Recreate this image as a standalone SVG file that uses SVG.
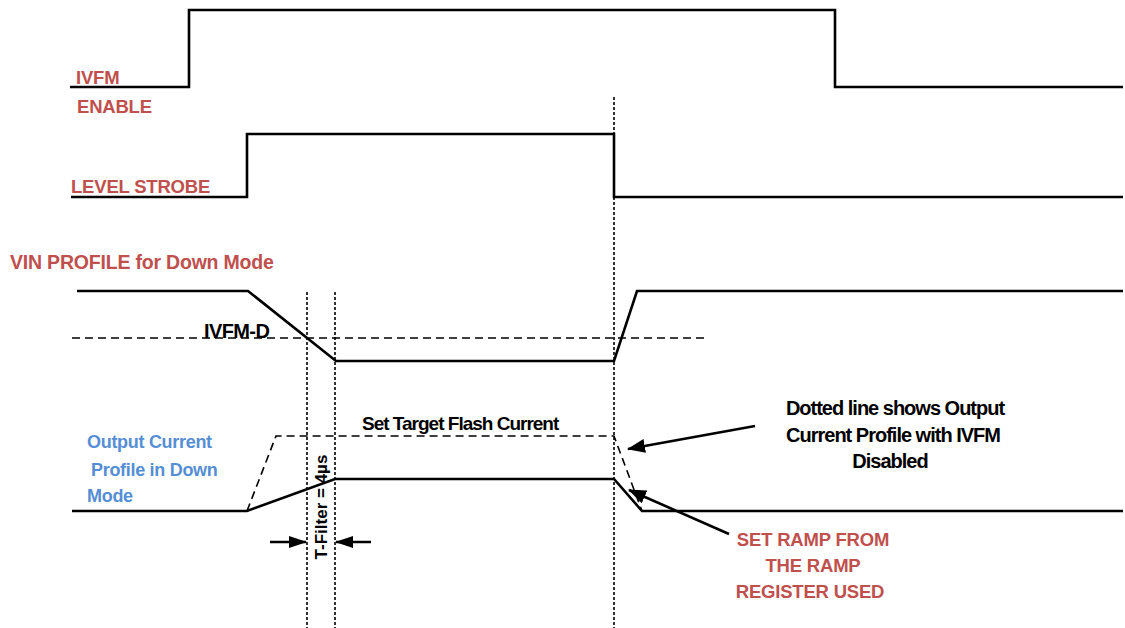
<svg xmlns="http://www.w3.org/2000/svg" width="1125" height="628" viewBox="0 0 1125 628">
<style>
.sig{fill:none;stroke:#000;stroke-width:2.6;stroke-linejoin:miter}
.dash{fill:none;stroke:#000;stroke-width:1.6;stroke-dasharray:8,5}
.dot{fill:none;stroke:#000;stroke-width:1.6;stroke-dasharray:3,2}
.arr{fill:none;stroke:#000;stroke-width:2.6}
.red{font-family:"Liberation Sans",Arial,sans-serif;font-weight:bold;fill:#C0504D;font-size:18.5px;letter-spacing:-0.2px}
.blue{font-family:"Liberation Sans",Arial,sans-serif;font-weight:bold;fill:#558ED5;font-size:18px;letter-spacing:-0.3px}
.blk{font-family:"Liberation Sans",Arial,sans-serif;font-weight:bold;fill:#000;font-size:19px;letter-spacing:-1px}
</style>
<defs>
<marker id="ah" viewBox="0 0 18 12" refX="17" refY="6" markerWidth="18" markerHeight="12" markerUnits="userSpaceOnUse" orient="auto">
<path d="M0,0 L18,6 L0,12 Z" fill="#000"/>
</marker>
<marker id="ah2" viewBox="0 0 18 14" refX="17" refY="7" markerWidth="18" markerHeight="14" markerUnits="userSpaceOnUse" orient="auto">
<path d="M0,0 L18,7 L0,14 Z" fill="#000"/>
</marker>
</defs>
<rect width="1125" height="628" fill="#fff"/>
<g id="ivfm-enable">
<polyline class="sig" points="70,87 189,87 189,10 835,10 835,87 1123,87"/>
<text class="red" x="76" y="84">IVFM</text>
<text class="red" x="77" y="113">ENABLE</text>
</g>
<g id="level-strobe">
<polyline class="sig" points="71,197 247,197 247,134 614,134 614,197 1123,197"/>
<text class="red" x="71" y="193">LEVEL STROBE</text>
</g>
<g id="vin-profile">
<text class="red" x="10" y="269" style="font-size:19.5px;letter-spacing:-0.2px">VIN PROFILE for Down Mode</text>
<polyline class="sig" points="77,291 248,291 336,361 614,361 637,291 1123,291"/>
<line class="dash" x1="72" y1="338" x2="705" y2="338"/>
<text class="blk" x="204" y="338" style="font-size:20px;letter-spacing:-0.6px">IVFM-D</text>
</g>
<g id="output-current">
<text class="blue" x="87" y="448">Output Current</text>
<text class="blue" x="91" y="476">Profile in Down</text>
<text class="blue" x="87" y="502">Mode</text>
<polyline class="sig" points="72,511 247,511 335,479 614,479 642,511 1123,511"/>
<polyline class="dash" points="247,511 276,436 614,436 642,511"/>
<text class="blk" x="362" y="430">Set Target Flash Current</text>
</g>
<g id="t-filter">
<text transform="translate(327,507) rotate(-90)" text-anchor="middle" style="font-family:'Liberation Sans',Arial,sans-serif;font-weight:bold;font-size:17px;fill:#000">T-Filter = 4µs</text>
</g>
<g id="note-disabled">
<text class="blk" x="895" y="415" text-anchor="middle" style="font-size:20px">Dotted line shows Output</text>
<text class="blk" x="893" y="442" text-anchor="middle" style="font-size:20px">Current Profile with IVFM</text>
<text class="blk" x="890" y="468" text-anchor="middle" style="font-size:20px">Disabled</text>
</g>
<g id="note-ramp">
<text class="red" x="813" y="546" text-anchor="middle">SET RAMP FROM</text>
<text class="red" x="813" y="572" text-anchor="middle">THE RAMP</text>
<text class="red" x="810" y="598" text-anchor="middle">REGISTER USED</text>
</g>
<g id="connectors">
<line class="dot" x1="614" y1="97" x2="614" y2="628"/>
<line class="dot" x1="307" y1="292" x2="307" y2="628"/>
<line class="dot" x1="335" y1="292" x2="335" y2="628"/>
<line class="arr" x1="270" y1="542" x2="306" y2="542" marker-end="url(#ah)"/>
<line class="arr" x1="371" y1="542" x2="336" y2="542" marker-end="url(#ah)"/>
<line class="arr" x1="755" y1="426" x2="628" y2="449" marker-end="url(#ah2)"/>
<line class="arr" x1="729" y1="534" x2="629" y2="490" marker-end="url(#ah2)"/>
</g>
</svg>
